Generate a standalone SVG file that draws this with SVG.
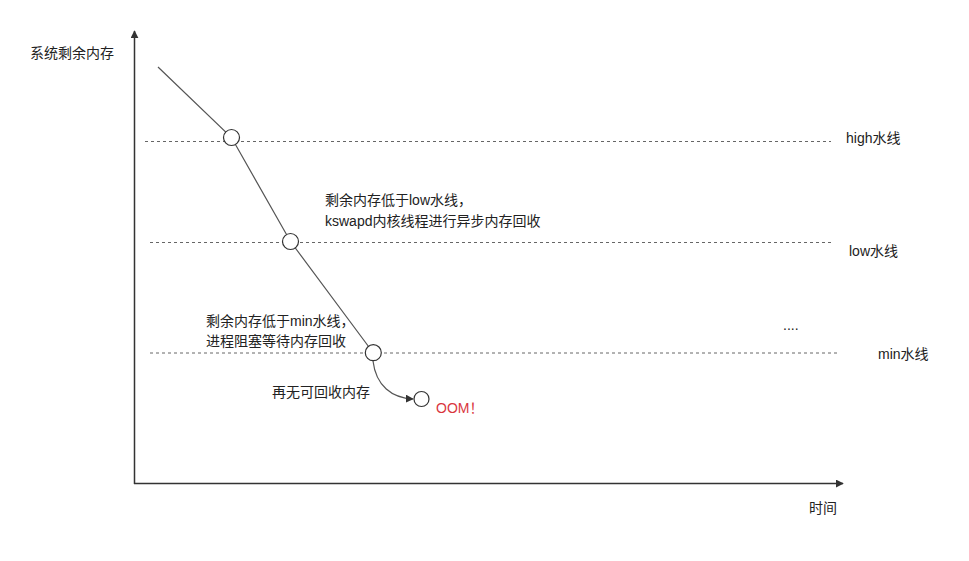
<svg xmlns="http://www.w3.org/2000/svg" width="969" height="561" viewBox="0 0 969 561">
<style>
text{font-family:"Liberation Sans","Noto Sans CJK SC",sans-serif;font-size:14px;fill:#222}
.axis{stroke:#333;stroke-width:1.5;fill:none}
.dash{stroke:#666;stroke-width:1;stroke-dasharray:3 3;fill:none}
.line{stroke:#555;stroke-width:1.2;fill:none}
.pt{fill:#fff;stroke:#333;stroke-width:1.2}
.red{fill:#d9363e}
</style>
<defs>
<marker id="ah" viewBox="0 0 10 10" refX="9" refY="5" markerWidth="8" markerHeight="8" markerUnits="userSpaceOnUse" orient="auto">
<path d="M0,0 L10,5 L0,10 z" fill="#333"/>
</marker>
</defs>
<rect width="969" height="561" fill="#fff"/>
<g id="axes">
<line class="axis" x1="134.5" y1="484" x2="134.5" y2="31" marker-end="url(#ah)"/>
<line class="axis" x1="134" y1="483.5" x2="843" y2="483.5" marker-end="url(#ah)"/>
<text x="30" y="58">系统剩余内存</text>
<text x="809" y="513">时间</text>
</g>
<g id="watermarks">
<line class="dash" x1="145" y1="141.5" x2="831" y2="141.5"/>
<line class="dash" x1="150" y1="242.5" x2="833" y2="242.5"/>
<line class="dash" x1="150" y1="353" x2="838" y2="353"/>
<text x="846" y="143">high水线</text>
<text x="849" y="256">low水线</text>
<text x="878" y="359">min水线</text>
<text x="783" y="330">....</text>
</g>
<g id="connectors">
<polyline class="line" points="158,67 231.5,137.5 290.5,241.5 373,352.5"/>
<path class="line" d="M373,361 C376,386 392,398 413,399" marker-end="url(#ah)"/>
</g>
<g id="node-high"><circle class="pt" cx="231.5" cy="137.5" r="8"/></g>
<g id="node-low">
<circle class="pt" cx="290.5" cy="241.5" r="8"/>
<text x="325" y="205">剩余内存低于low水线，</text>
<text x="325" y="226">kswapd内核线程进行异步内存回收</text>
</g>
<g id="node-min">
<circle class="pt" cx="373.3" cy="352.7" r="8"/>
<text x="206" y="326">剩余内存低于min水线，</text>
<text x="206" y="346">进程阻塞等待内存回收</text>
<text x="272" y="397">再无可回收内存</text>
</g>
<g id="node-oom">
<circle class="pt" cx="421.5" cy="399" r="7.5"/>
<text class="red" x="436" y="413">OOM！</text>
</g>
</svg>
